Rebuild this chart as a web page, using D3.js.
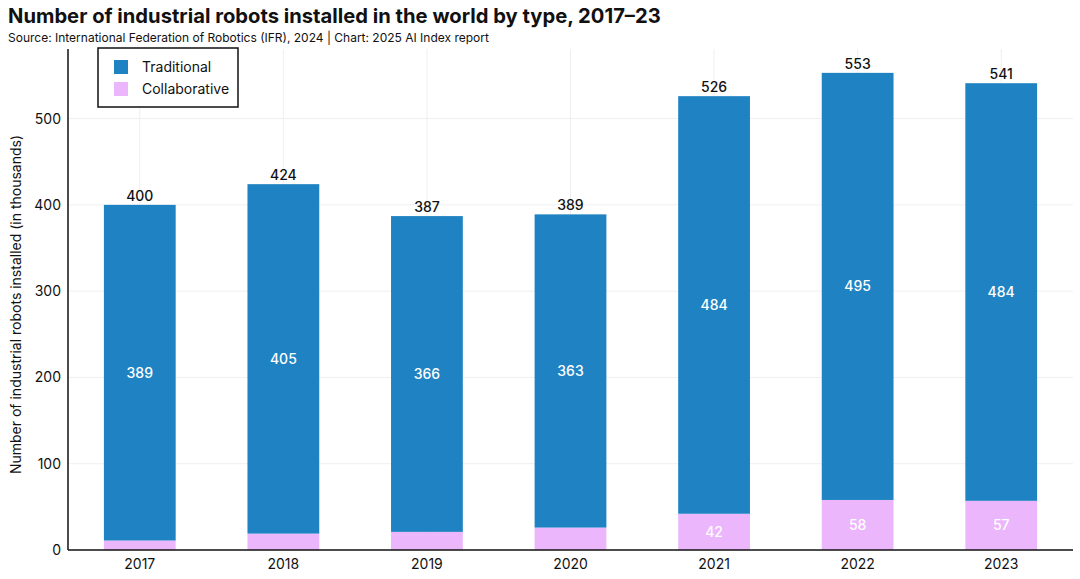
<!DOCTYPE html>
<html>
<head>
<meta charset="utf-8">
<script src="https://cdn.jsdelivr.net/npm/d3@7"></script>
<style>
  body { margin: 0; background: #fff; }
  svg { font-family: Inter, "Noto Sans", sans-serif; }
</style>
</head>
<body>
<div id="chart"></div>
<script>
// data
const years = ["2017", "2018", "2019", "2020", "2021", "2022", "2023"];
const traditional = [389, 405, 366, 363, 484, 495, 484];
const collaborative = [11, 19, 21, 26, 42, 58, 57];
const totals = [400, 424, 387, 389, 526, 553, 541];
const yTicks = [0, 100, 200, 300, 400, 500];
const seriesNames = ["Traditional", "Collaborative"];
const seriesColors = ["#1f83c3", "#ecb6fc"];

const W = 1080, H = 579;
const plot = { left: 68, right: 1073, top: 49, bottom: 550 };

const svg = d3.select("#chart").append("svg")
  .attr("width", W).attr("height", H);

// title + source
svg.append("text").attr("x", 8).attr("y", 23)
  .attr("font-size", 20.2).attr("font-weight", 700).attr("fill", "#111")
  .text("Number of industrial robots installed in the world by type, 2017–23");
svg.append("text").attr("x", 8).attr("y", 42)
  .attr("font-size", 12).attr("fill", "#111")
  .text("Source: International Federation of Robotics (IFR), 2024 | Chart: 2025 AI Index report");

const x = d3.scaleBand().domain(years).range([plot.left, plot.right])
  .paddingInner(0.5).paddingOuter(0.25);
const y = d3.scaleLinear().domain([0, 553 * 1.05]).range([plot.bottom, plot.top]);

// grid
svg.append("g").selectAll("line").data(yTicks.slice(1)).enter().append("line")
  .attr("x1", plot.left).attr("x2", plot.right)
  .attr("y1", d => y(d)).attr("y2", d => y(d))
  .attr("stroke", "#efefef").attr("stroke-width", 1);
svg.append("g").selectAll("line").data(years).enter().append("line")
  .attr("x1", d => x(d) + x.bandwidth() / 2).attr("x2", d => x(d) + x.bandwidth() / 2)
  .attr("y1", plot.top).attr("y2", plot.bottom)
  .attr("stroke", "#efefef").attr("stroke-width", 1);

// stacked bars
const rows = years.map((yr, i) => ({ year: yr, Traditional: traditional[i], Collaborative: collaborative[i], total: totals[i] }));
const stack = d3.stack().keys(["Collaborative", "Traditional"])(rows);
const color = d3.scaleOrdinal().domain(seriesNames).range(seriesColors);

const layers = svg.append("g").selectAll("g").data(stack).enter().append("g")
  .attr("fill", d => color(d.key));
layers.selectAll("rect").data(d => d).enter().append("rect")
  .attr("x", d => x(d.data.year))
  .attr("width", x.bandwidth())
  .attr("y", d => y(d[1]))
  .attr("height", d => y(d[0]) - y(d[1]));

// labels inside segments (skip the thin ones)
layers.selectAll("text")
  .data(d => d.map(v => ({ key: d.key, lo: v[0], hi: v[1], year: v.data.year, val: v.data[d.key] }))
    .filter(v => v.hi - v.lo >= 30))
  .enter().append("text")
  .attr("x", d => x(d.year) + x.bandwidth() / 2)
  .attr("y", d => (y(d.lo) + y(d.hi)) / 2 + 5)
  .attr("text-anchor", "middle").attr("font-size", 14).attr("font-weight", 500)
  .attr("fill", "#fff")
  .text(d => d.val);

// totals
svg.append("g").selectAll("text").data(rows).enter().append("text")
  .attr("x", d => x(d.year) + x.bandwidth() / 2)
  .attr("y", d => y(d.total) - 4)
  .attr("text-anchor", "middle").attr("font-size", 14).attr("font-weight", 500)
  .attr("fill", "#111")
  .text(d => d.total);

// axes
const xAxis = svg.append("g").attr("transform", "translate(0," + plot.bottom + ")")
  .call(d3.axisBottom(x).tickSize(0).tickPadding(9));
xAxis.select(".domain").attr("stroke", "#111").attr("stroke-width", 1.5)
  .attr("d", "M" + plot.left + ",0H" + plot.right);
xAxis.selectAll("text").attr("font-size", 14).attr("font-family", "Inter, sans-serif").attr("fill", "#111");

const yAxis = svg.append("g").attr("transform", "translate(" + plot.left + ",0)")
  .call(d3.axisLeft(y).tickValues(yTicks).tickSize(0).tickPadding(7));
yAxis.select(".domain").attr("stroke", "#111").attr("stroke-width", 1.5)
  .attr("d", "M0," + plot.top + "V" + plot.bottom);
yAxis.selectAll("text").attr("font-size", 14).attr("font-family", "Inter, sans-serif").attr("fill", "#111");

svg.append("text")
  .attr("transform", "translate(21," + ((plot.top + plot.bottom) / 2 + 5) + ") rotate(-90)")
  .attr("text-anchor", "middle").attr("font-size", 14).attr("fill", "#111")
  .text("Number of industrial robots installed (in thousands)");

// legend
const lg = svg.append("g").attr("transform", "translate(98,48)");
lg.append("rect").attr("width", 140).attr("height", 59)
  .attr("fill", "#fff").attr("stroke", "#111").attr("stroke-width", 1.5);
seriesNames.forEach((name, i) => {
  lg.append("rect").attr("x", 16).attr("y", 12 + i * 22).attr("width", 14).attr("height", 14)
    .attr("fill", seriesColors[i]);
  lg.append("text").attr("x", 44).attr("y", 24 + i * 22)
    .attr("font-size", 14).attr("fill", "#111").text(name);
});
</script>
</body>
</html>
